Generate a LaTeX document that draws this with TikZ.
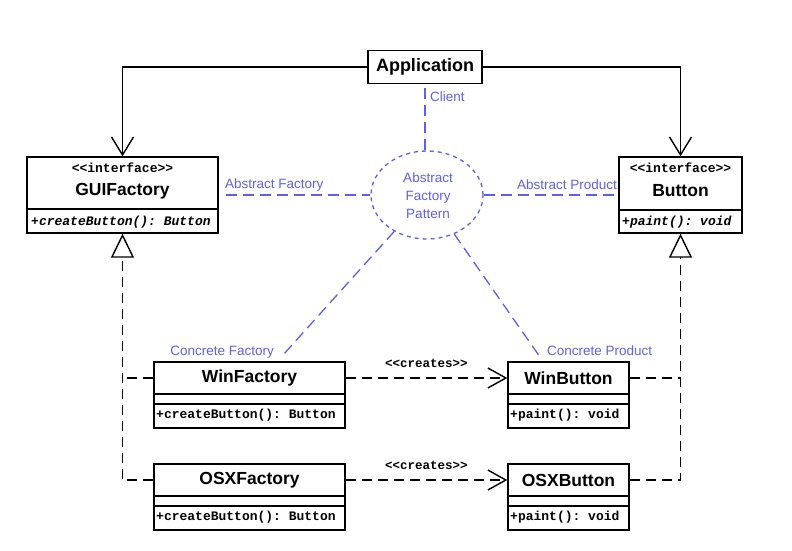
\documentclass[tikz,border=0pt]{standalone}
\usepackage{fontspec}
\setmainfont{Liberation Sans}
\setsansfont{Liberation Sans}
\setmonofont{Liberation Mono}
\usetikzlibrary{arrows.meta,shapes.geometric}
\definecolor{patblue}{RGB}{95,95,235}
\tikzset{
  box/.style={draw, line width=1.4pt, inner sep=0pt, fill=white},
  cname/.style={font=\fontsize{17.5}{17.5}\selectfont\bfseries, inner sep=0pt},
  stereo/.style={font=\fontsize{13}{13}\selectfont\ttfamily\bfseries, inner sep=0pt},
  meth/.style={font=\fontsize{13}{13}\selectfont\ttfamily\bfseries, inner sep=0pt, anchor=west},
  imeth/.style={font=\fontsize{13}{13}\selectfont\ttfamily\bfseries\itshape, inner sep=0pt, anchor=west},
  assoc/.style={line width=1.4pt, -{Straight Barb[length=18pt,width=22pt,line width=1.4pt]}},
  realiz/.style={line width=1.4pt, dash pattern=on 10pt off 6pt, -{Triangle[open,length=24pt,width=23pt,line width=1.4pt,fill=white]}},
  dep/.style={line width=1.4pt, dash pattern=on 10pt off 6pt},
  creates/.style={dep, -{Straight Barb[length=18pt,width=20pt,line width=1.4pt]}},
  pat/.style={draw=patblue, line width=1.3pt, dash pattern=on 11pt off 6pt},
  bluelbl/.style={text=patblue, font=\fontsize{13.5}{13.5}\selectfont, inner sep=0pt},
  crlbl/.style={font=\fontsize{12.5}{12.5}\selectfont\ttfamily\bfseries, inner sep=0pt}
}
\begin{document}
\begin{tikzpicture}[x=1pt,y=-1pt]
\useasboundingbox (0,0) rectangle (792,551);
% Application
\node[box, minimum width=114pt, minimum height=33pt] (app) at (425,67) {};
\node[cname, font=\fontsize{18}{18}\selectfont\bfseries] (appt) at (425,67) {Application};
% GUIFactory
\node[box, minimum width=191pt, minimum height=76pt] (gui) at (122.5,195) {};
\draw[line width=1.4pt] (27,209) -- (218,209);
\node[stereo] (guis) at (122.5,168) {<<interface>>};
\node[cname] (guin) at (122.5,191) {GUIFactory};
\node[imeth] (guim) at (31,222) {+createButton(): Button};
% Button
\node[box, minimum width=123pt, minimum height=76pt] (btn) at (680.5,195) {};
\draw[line width=1.4pt] (619,210) -- (742,210);
\node[stereo] (btns) at (680.5,168) {<<interface>>};
\node[cname] (btnn) at (680.5,191) {Button};
\node[imeth] (btnm) at (622,222) {+paint(): void};
% WinFactory
\node[box, minimum width=191pt, minimum height=66pt] (winf) at (249.5,395) {};
\draw[line width=1.4pt] (154,394) -- (345,394) (154,404) -- (345,404);
\node[cname] (winfn) at (249.5,378) {WinFactory};
\node[meth] (winfm) at (156,415) {+createButton(): Button};
% OSXFactory
\node[box, minimum width=191pt, minimum height=66pt] (osxf) at (249.5,497) {};
\draw[line width=1.4pt] (154,496) -- (345,496) (154,506) -- (345,506);
\node[cname] (osxfn) at (249.5,480) {OSXFactory};
\node[meth] (osxfm) at (156,517) {+createButton(): Button};
% WinButton
\node[box, minimum width=121pt, minimum height=66pt] (winb) at (568.5,395) {};
\draw[line width=1.4pt] (508,394) -- (629,394) (508,404) -- (629,404);
\node[cname] (winbn) at (568.5,378) {WinButton};
\node[meth] (winbm) at (510,415) {+paint(): void};
% OSXButton
\node[box, minimum width=121pt, minimum height=66pt] (osxb) at (568.5,497) {};
\draw[line width=1.4pt] (508,496) -- (629,496) (508,506) -- (629,506);
\node[cname] (osxbn) at (568.5,480) {OSXButton};
\node[meth] (osxbm) at (510,517) {+paint(): void};
% attachment points on the name rows
\coordinate (winfL) at (winf.west |- winfn);
\coordinate (winfR) at (winf.east |- winfn);
\coordinate (osxfL) at (osxf.west |- osxfn);
\coordinate (osxfR) at (osxf.east |- osxfn);
\coordinate (winbL) at (winb.west |- winbn);
\coordinate (winbR) at (winb.east |- winbn);
\coordinate (osxbL) at (osxb.west |- osxbn);
\coordinate (osxbR) at (osxb.east |- osxbn);
% associations
\draw[assoc] (app.west) -| (gui.north);
\draw[assoc] (app.east) -| (btn.north);
% realizations
\draw[dep] (winfL) -- (winfL -| gui.south);
\draw[realiz] (osxfL) -| (gui.south);
\draw[dep] (winbR) -- (winbR -| btn.south);
\draw[realiz] (osxbR) -| (btn.south);
% creates
\draw[creates] (winfR) -- (winbL) node[crlbl, midway, above=10pt] (cr1) {<<creates>>};
\draw[creates] (osxfR) -- (osxbL) node[crlbl, midway, above=10pt] (cr2) {<<creates>>};
% pattern ellipse
\node[ellipse, draw=patblue, line width=1.3pt, dash pattern=on 4pt off 4pt, minimum width=112pt, minimum height=88pt, inner sep=0pt, fill=white] (ell) at (427,195) {};
\node[bluelbl, align=center] (ellt) at (428,196) {Abstract\\[4.5pt]Factory\\[4.5pt]Pattern};
\coordinate (cf) at (283,355);
\coordinate (cp) at (540,357);
\draw[pat] (app.south -| 425,0) ++(0,4) coordinate (cl) -- (cl |- ell.north);
\draw[pat, shorten <=7pt] (gui.east) -- (ell.west);
\draw[pat] (ell.east) -- (btn.west);
\draw[pat] (ell) -- (cf);
\draw[pat] (ell) -- (cp);
\node[bluelbl, anchor=west] (lcl) at (430,97) {Client};
\node[bluelbl, anchor=west] (laf) at (225,185) {Abstract Factory};
\node[bluelbl, anchor=east] (lap) at (617,185) {Abstract Product};
\node[bluelbl, anchor=east] (lcf) at (274,352) {Concrete Factory};
\node[bluelbl, anchor=west] (lcp) at (547,351) {Concrete Product};
\end{tikzpicture}
\end{document}
